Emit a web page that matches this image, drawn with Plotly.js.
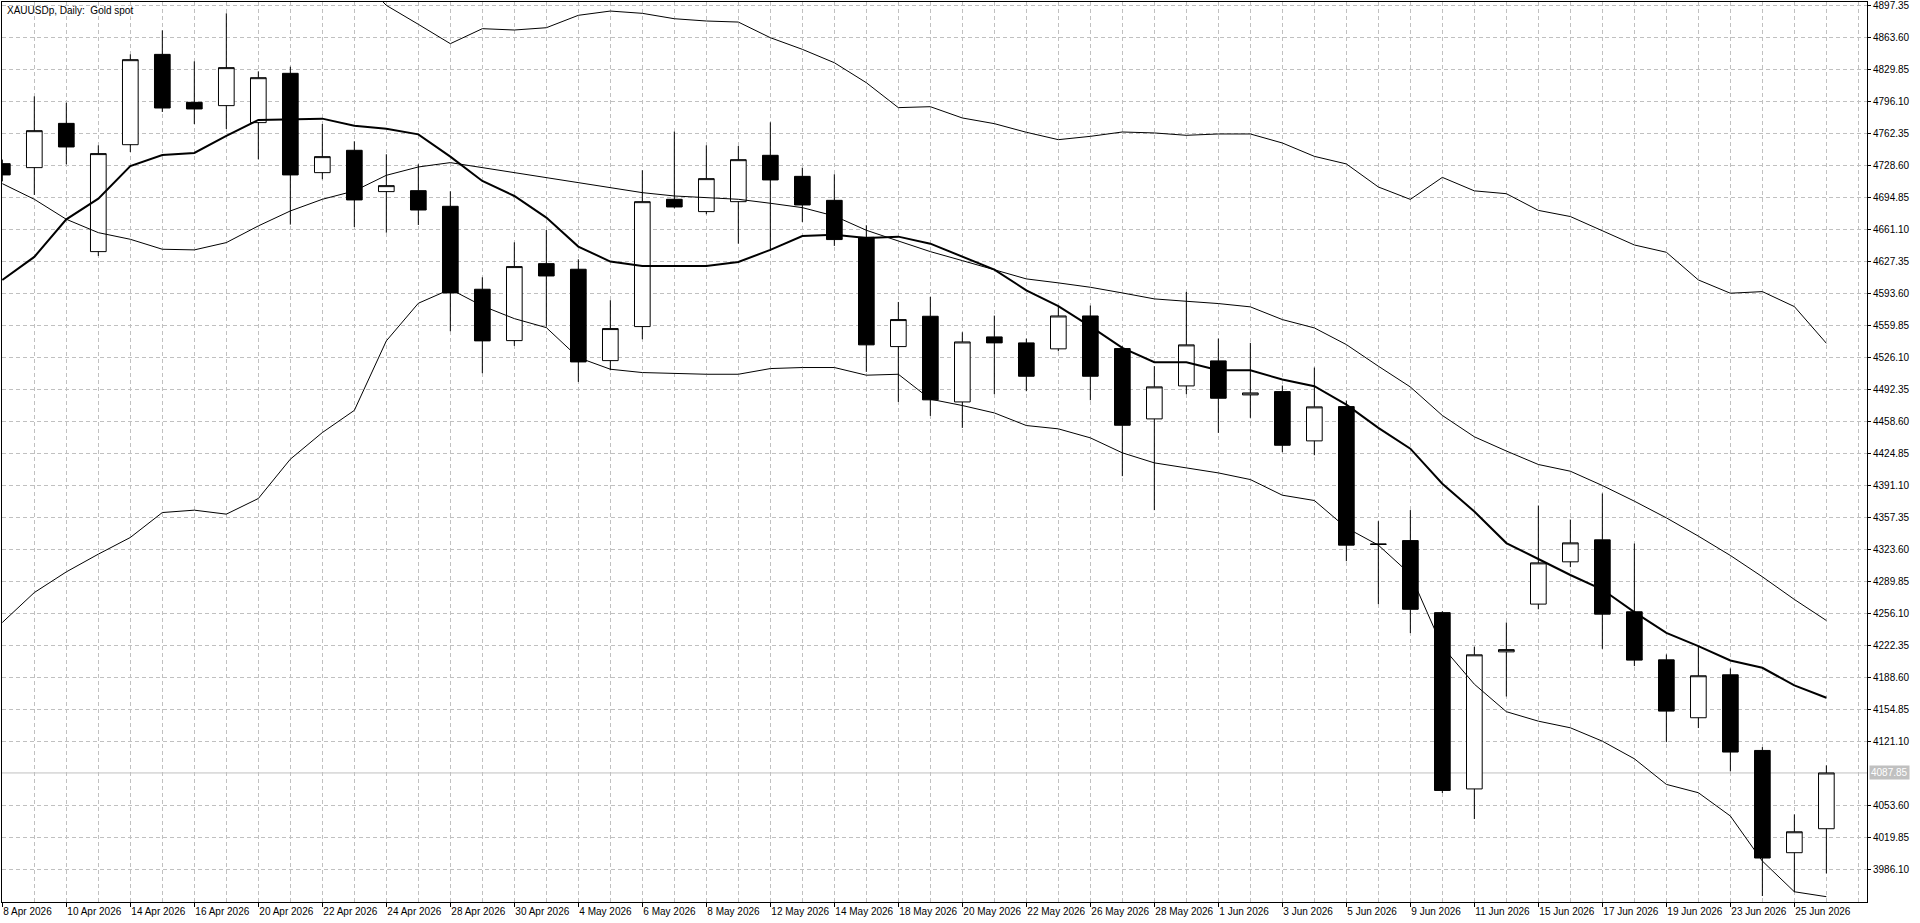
<!DOCTYPE html>
<html>
<head>
<meta charset="utf-8">
<script src="https://cdn.plot.ly/plotly-3.0.1.min.js"></script>
<style>html,body{margin:0;padding:0;background:#fff;}#chart{width:1920px;height:923px;}</style>
</head>
<body>
<div id="chart"></div>
<script>
// ---- data ----
const dates = ['8 Apr 2026','9 Apr 2026','10 Apr 2026','13 Apr 2026','14 Apr 2026','15 Apr 2026','16 Apr 2026','17 Apr 2026',
 '20 Apr 2026','21 Apr 2026','22 Apr 2026','23 Apr 2026','24 Apr 2026','27 Apr 2026','28 Apr 2026','29 Apr 2026','30 Apr 2026',
 '1 May 2026','4 May 2026','5 May 2026','6 May 2026','7 May 2026','8 May 2026','11 May 2026','12 May 2026','13 May 2026','14 May 2026','15 May 2026',
 '18 May 2026','19 May 2026','20 May 2026','21 May 2026','22 May 2026','25 May 2026','26 May 2026','27 May 2026','28 May 2026','29 May 2026',
 '1 Jun 2026','2 Jun 2026','3 Jun 2026','4 Jun 2026','5 Jun 2026','8 Jun 2026','9 Jun 2026','10 Jun 2026','11 Jun 2026','12 Jun 2026',
 '15 Jun 2026','16 Jun 2026','17 Jun 2026','18 Jun 2026','19 Jun 2026','22 Jun 2026','23 Jun 2026','24 Jun 2026','25 Jun 2026','26 Jun 2026'];

const open = [4730.7,4726.5,4773.2,4637.9,4750.7,4846.0,4795.4,4791.9,4774.0,4826.0,4721.2,4744.8,4701.2,4702.2,4685.7,4598.2,4544.0,
 4625.2,4619.3,4522.9,4558.8,4693.1,4680.1,4690.6,4739.5,4717.3,4692.0,4653.0,4537.7,4569.7,4479.3,4547.9,4541.6,4535.3,4570.0,4535.6,
 4461.4,4496.2,4522.6,4486.7,4490.2,4438.2,4474.4,4329.5,4333.0,4257.0,4071.0,4215.6,4266.0,4310.6,4333.8,4257.9,4207.2,4146.1,4191.4,
 4111.6,4003.7,4029.0];
const high = [4735.0,4801.7,4795.0,4750.0,4846.0,4871.3,4838.6,4889.3,4828.1,4833.0,4772.5,4754.3,4740.6,4730.0,4701.5,4610.8,4647.7,
 4660.7,4629.8,4586.6,4723.7,4764.5,4750.0,4749.3,4774.3,4726.5,4719.5,4665.7,4584.8,4590.1,4552.8,4570.4,4546.1,4580.3,4581.0,4538.0,
 4517.0,4595.4,4546.1,4541.6,4496.6,4515.6,4480.8,4353.5,4365.2,4258.5,4221.0,4246.6,4370.0,4355.2,4382.7,4329.9,4212.9,4221.6,4198.1,
 4115.1,4044.1,4095.8];
const low = [4712.0,4697.7,4730.0,4633.3,4743.0,4785.2,4772.5,4767.3,4735.3,4666.4,4714.2,4663.9,4657.9,4666.0,4553.9,4509.6,4538.4,
 4558.8,4500.4,4512.7,4545.4,4683.6,4677.3,4646.3,4638.6,4669.2,4643.9,4511.0,4479.3,4464.6,4451.9,4487.5,4490.6,4532.8,4481.1,4401.0,
 4365.1,4487.5,4446.7,4462.5,4426.3,4423.1,4311.3,4266.0,4235.4,4066.7,4039.2,4168.5,4260.5,4305.0,4218.8,4200.6,4120.4,4135.2,4089.5,
 3958.0,3962.2,3981.9];
const close = [4718.8,4765.5,4748.3,4741.3,4840.4,4789.4,4788.4,4832.0,4821.4,4718.8,4738.1,4692.4,4707.5,4681.8,4594.3,4543.7,4622.1,
 4612.2,4521.5,4556.7,4690.6,4685.0,4714.9,4734.9,4713.5,4687.1,4650.6,4539.5,4566.2,4481.5,4542.6,4541.6,4506.4,4570.0,4506.4,4454.7,
 4495.2,4539.5,4483.2,4488.8,4433.6,4474.1,4328.2,4329.0,4260.5,4069.4,4212.5,4218.0,4309.5,4330.6,4255.4,4206.9,4153.1,4190.4,4109.9,
 3998.1,4025.8,4087.85];

// thick moving average
const maLine = [4608.0,4632.3,4672.0,4693.8,4728.2,4739.8,4742.0,4759.9,4776.8,4777.1,4778.2,4770.8,4767.6,4761.6,4738.1,4712.4,4696.6,
 4673.8,4643.2,4627.4,4622.8,4622.8,4622.8,4627.0,4639.7,4654.4,4655.8,4652.3,4653.7,4646.3,4632.3,4618.9,4597.1,4580.3,4559.1,4536.3,
 4521.2,4521.2,4512.7,4512.7,4502.9,4495.9,4476.5,4451.9,4430.0,4393.0,4363.7,4330.4,4313.6,4296.7,4281.4,4257.5,4235.7,4221.6,4206.5,
 4198.8,4180.2,4167.2];
// Bollinger bands
const bbUpper = [5172.6,5108.0,5044.0,4997.1,4965.5,4918.2,4914.3,4933.9,4952.6,4942.7,4939.2,4932.9,4897.7,4877.7,4857.3,4873.1,4871.7,
 4874.1,4887.2,4891.7,4889.3,4883.6,4881.2,4880.1,4863.6,4851.3,4837.2,4816.1,4789.8,4790.8,4778.9,4772.9,4763.8,4756.0,4759.5,4764.1,
 4763.1,4760.6,4762.0,4762.0,4752.5,4738.4,4730.4,4706.1,4693.0,4716.2,4702.0,4699.0,4681.4,4674.9,4660.0,4644.9,4637.2,4608.0,4594.0,
 4595.7,4579.9,4541.2];
const bbMiddle = [4709.6,4693.1,4672.0,4657.9,4650.9,4640.4,4639.7,4647.4,4665.0,4680.8,4693.1,4701.9,4718.4,4727.2,4731.8,4726.5,4721.2,
 4715.9,4710.0,4704.7,4700.1,4696.6,4694.9,4693.1,4688.9,4684.3,4675.5,4660.4,4649.1,4637.9,4628.4,4618.9,4609.1,4604.9,4600.3,4594.3,
 4588.0,4585.5,4583.1,4579.6,4566.2,4557.4,4539.8,4517.0,4495.1,4465.0,4442.5,4427.5,4413.3,4406.2,4391.1,4374.6,4357.0,4337.7,4317.3,
 4294.8,4270.9,4248.7];
const bbLower = [4246.6,4278.2,4300.0,4318.7,4336.3,4362.6,4365.1,4360.9,4377.4,4418.9,4447.0,4470.4,4543.7,4583.4,4598.2,4580.6,4567.2,
 4557.7,4526.1,4513.8,4510.3,4509.2,4508.5,4508.5,4514.5,4515.6,4515.6,4507.5,4508.5,4482.2,4475.5,4467.7,4454.4,4450.9,4441.4,4425.6,
 4415.0,4409.7,4404.4,4397.4,4380.9,4375.3,4346.5,4328.2,4297.5,4221.0,4181.5,4152.5,4142.5,4135.5,4121.4,4102.8,4075.8,4067.0,4042.4,
 3994.9,3962.5,3957.3];

const priceTicks = ['4897.35','4863.60','4829.85','4796.10','4762.35','4728.60','4694.85','4661.10','4627.35','4593.60','4559.85',
 '4526.10','4492.35','4458.60','4424.85','4391.10','4357.35','4323.60','4289.85','4256.10','4222.35','4188.60','4154.85','4121.10',
 '4053.60','4019.85','3986.10'];
const lastPrice = 4087.85;
const chartTitle = 'XAUUSDp, Daily:  Gold spot';

// ---- build ----
const idx = dates.map((d, i) => i);
const tickIdx = idx.filter(i => i % 2 === 0);
const tickTxt = tickIdx.map(i => dates[i]);
const gridIdx = [];
for (let i = 0; i <= 58; i++) gridIdx.push(i);

const FONT = 'Liberation Sans, Arial, sans-serif';
const GRID = '#c0c0c0';

const traces = [
  {type:'scatter', mode:'lines', x: idx, y: bbUpper, line:{color:'#000', width:1}, hoverinfo:'skip', showlegend:false},
  {type:'scatter', mode:'lines', x: idx, y: bbMiddle, line:{color:'#000', width:1}, hoverinfo:'skip', showlegend:false},
  {type:'scatter', mode:'lines', x: idx, y: bbLower, line:{color:'#000', width:1}, hoverinfo:'skip', showlegend:false},
  {type:'scatter', mode:'lines', x: idx, y: maLine, line:{color:'#000', width:2}, hoverinfo:'skip', showlegend:false},
  {type:'candlestick', x: idx, open: open, high: high, low: low, close: close,
   increasing:{line:{color:'#000', width:1}, fillcolor:'#ffffff'},
   decreasing:{line:{color:'#000', width:1}, fillcolor:'#000000'},
   whiskerwidth: 0, hoverinfo:'skip', showlegend:false}
];

const layout = {
  width:1920, height:923,
  margin:{l:2, r:53, t:2, b:21, pad:0},
  paper_bgcolor:'#ffffff', plot_bgcolor:'#ffffff',
  font:{family:FONT, size:10, color:'#000'},
  showlegend:false,
  xaxis:{
    range:[-0.01, 58.27], type:'linear',
    tickmode:'array', tickvals: tickIdx, ticktext: tickTxt,
    ticks:'outside', ticklen:4, tickcolor:'#000', tickwidth:1,
    tickangle:0, automargin:false,
    ticklabelposition:'outside right',
    tickfont:{family:FONT, size:10, color:'#000'},
    showgrid:true, gridcolor:GRID, griddash:'4px,3px', gridwidth:1,
    minor:{tickmode:'array', tickvals: gridIdx, showgrid:true, gridcolor:GRID, griddash:'4px,3px', gridwidth:1, ticks:''},
    showline:true, mirror:true, linecolor:'#000', linewidth:1,
    zeroline:false, rangeslider:{visible:false}, fixedrange:true
  },
  yaxis:{
    range:[3951.7, 4901.25], side:'right', automargin:false,
    tickmode:'array', tickvals: priceTicks.map(Number), ticktext: priceTicks,
    ticks:'outside', ticklen:3, tickcolor:'#000', tickwidth:1,
    tickfont:{family:FONT, size:10, color:'#000'},
    showgrid:true, gridcolor:GRID, griddash:'4px,3px', gridwidth:1,
    showline:true, mirror:true, linecolor:'#000', linewidth:1,
    zeroline:false, fixedrange:true
  },
  shapes:[
    {type:'line', xref:'paper', x0:0, x1:1, yref:'y', y0:lastPrice, y1:lastPrice, line:{color:'#c0c0c0', width:1}, layer:'below'}
  ],
  annotations:[
    {xref:'paper', yref:'paper', x:0, y:1, xanchor:'left', yanchor:'top', xshift:3, yshift:-1,
     text: chartTitle, showarrow:false, font:{family:FONT, size:10, color:'#000'}},
    {xref:'paper', yref:'y', x:1, y:lastPrice, xanchor:'left', yanchor:'middle', xshift:2,
     text: lastPrice.toFixed(2), showarrow:false, bgcolor:'#c0c0c0', borderpad:1,
     font:{family:FONT, size:10, color:'#ffffff'}}
  ]
};

Plotly.newPlot('chart', traces, layout, {staticPlot:true, displayModeBar:false});
</script>
</body>
</html>
